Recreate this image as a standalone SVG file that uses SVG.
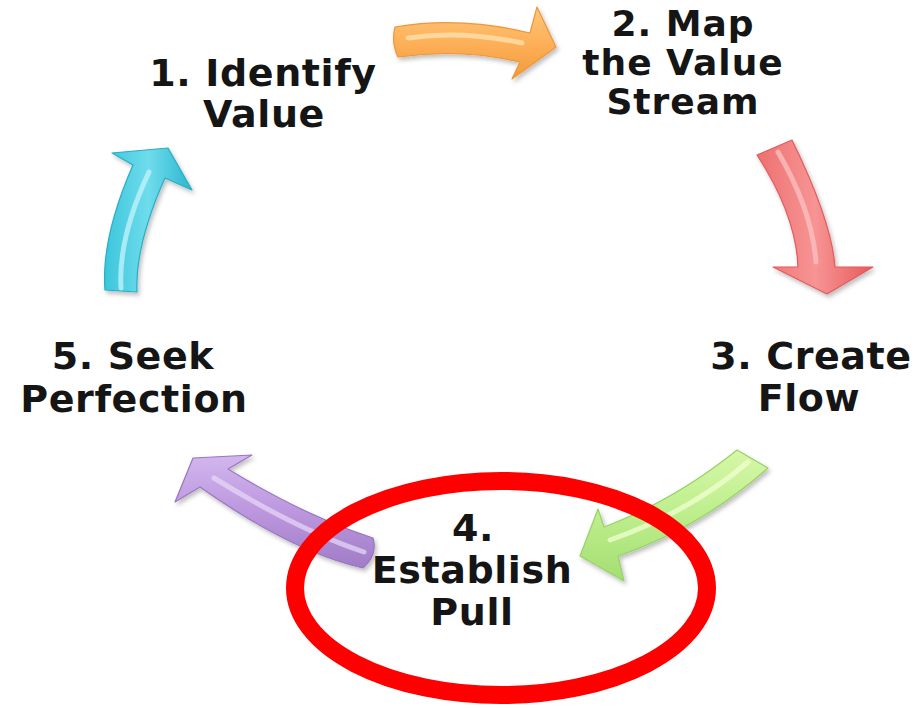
<svg xmlns="http://www.w3.org/2000/svg" width="918" height="708" viewBox="0 0 918 708">
  <defs>
    <style>
      .label { font-family: "DejaVu Sans", "Liberation Sans", sans-serif; font-weight: bold; font-size: 38px; letter-spacing: 0.6px; fill: #151515; text-anchor: middle; }
      .tight { font-size: 36px; letter-spacing: 1px; }
      .shine { fill: none; stroke-linecap: round; stroke-width: 5; opacity: 0.75; }
      .arrow { stroke-width: 1.2; stroke-linejoin: round; filter: url(#shadow); }
    </style>
    <filter id="shadow" x="-20%" y="-20%" width="140%" height="140%">
      <feDropShadow dx="2" dy="3" stdDeviation="2" flood-color="#000" flood-opacity="0.25"/>
    </filter>
    <linearGradient id="gOrange" x1="0" y1="0" x2="0" y2="1">
      <stop offset="0" stop-color="#FFC77A"/>
      <stop offset="0.5" stop-color="#FDB058"/>
      <stop offset="1" stop-color="#F39A3C"/>
    </linearGradient>
    <linearGradient id="gRed" x1="0" y1="0" x2="1" y2="0">
      <stop offset="0" stop-color="#EE7070"/>
      <stop offset="0.5" stop-color="#F79494"/>
      <stop offset="1" stop-color="#E85A5C"/>
    </linearGradient>
    <linearGradient id="gGreen" x1="0" y1="0" x2="0" y2="1">
      <stop offset="0" stop-color="#D6F7A8"/>
      <stop offset="0.5" stop-color="#BDEE8C"/>
      <stop offset="1" stop-color="#A4DE72"/>
    </linearGradient>
    <linearGradient id="gPurple" x1="0" y1="0" x2="0" y2="1">
      <stop offset="0" stop-color="#D2B6EE"/>
      <stop offset="0.5" stop-color="#BC97DE"/>
      <stop offset="1" stop-color="#A07CC8"/>
    </linearGradient>
    <linearGradient id="gCyan" x1="0" y1="0" x2="1" y2="0">
      <stop offset="0" stop-color="#3CC6DC"/>
      <stop offset="0.5" stop-color="#6FDCEC"/>
      <stop offset="1" stop-color="#2DB6CE"/>
    </linearGradient>
  </defs>

  <rect width="918" height="708" fill="#fff"/>

  <!-- curved block arrows of the cycle -->
  <g id="connectors">
    <g id="arrow-1-2">
      <path class="arrow" fill="url(#gOrange)" stroke="#EE9638"
            d="M395,27 Q460,16 530,33 L537,7 L556,47 L512,79 L520,62 Q460,48 398,57 Q391,42 395,27 Z"/>
      <path class="shine" stroke="#FFE2B0" d="M408,38 Q462,30 522,43"/>
    </g>
    <g id="arrow-2-3">
      <path class="arrow" fill="url(#gRed)" stroke="#E25A5C"
            d="M757,155 L792,140 Q832,222 835,267 L873,267 L827,294 L773,267 L798,267 Q796,215 757,155 Z"/>
      <path class="shine" stroke="#FBC2C2" d="M778,152 Q812,210 816,262"/>
    </g>
    <g id="arrow-3-4">
      <path class="arrow" fill="url(#gGreen)" stroke="#97D266"
            d="M737,450 L768,468 Q700,528 618,556 L624,581 L580,556 L598,509 L604,527 Q675,500 737,450 Z"/>
      <path class="shine" stroke="#F0FFD0" d="M748,462 Q690,512 610,540"/>
    </g>
    <g id="arrow-4-5">
      <path class="arrow" fill="url(#gPurple)" stroke="#9A76C2"
            d="M373,538 Q305,516 228,469 L252,455 L193,458 L175,502 L200,487 Q292,552 363,568 Q378,555 373,538 Z"/>
      <path class="shine" stroke="#E6D6F6" d="M364,552 Q298,530 214,478"/>
    </g>
    <g id="arrow-5-1">
      <path class="arrow" fill="url(#gCyan)" stroke="#26AEC6"
            d="M105,290 Q101,238 133,165 L112,153 L168,148 L192,190 L165,178 Q135,245 137,292 Z"/>
      <path class="shine" stroke="#C4F4FB" d="M121,288 Q118,238 149,172"/>
    </g>
  </g>

  <!-- step labels -->
  <g id="step-1">
    <text class="label" x="263" y="86">1. Identify</text>
    <text class="label" x="264" y="127">Value</text>
  </g>
  <g id="step-2">
    <text class="label tight" x="683" y="36">2. Map</text>
    <text class="label tight" x="683" y="75">the Value</text>
    <text class="label tight" x="683" y="114">Stream</text>
  </g>
  <g id="step-3">
    <text class="label" x="811" y="369">3. Create</text>
    <text class="label" x="809" y="411">Flow</text>
  </g>
  <g id="step-4">
    <text class="label" x="473" y="541">4.</text>
    <text class="label" x="472" y="583">Establish</text>
    <text class="label" x="472" y="625">Pull</text>
  </g>
  <g id="step-5">
    <text class="label" x="133" y="369">5. Seek</text>
    <text class="label" x="134" y="412">Perfection</text>
  </g>

  <!-- emphasis ring around step 4 -->
  <g id="highlight">
    <ellipse cx="501" cy="588" rx="206" ry="107" fill="none" stroke="#FF0000" stroke-width="18"/>
  </g>
</svg>
